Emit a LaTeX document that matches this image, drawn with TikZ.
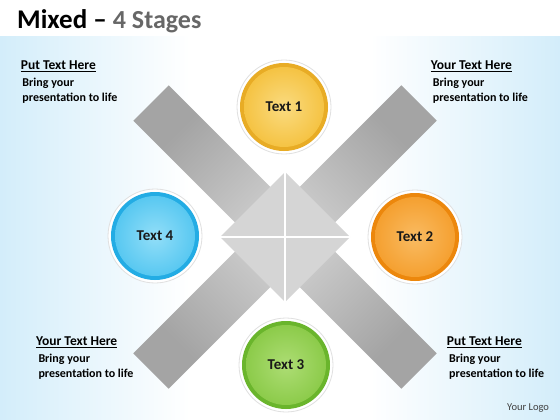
\documentclass[tikz,border=0pt]{standalone}
\usepackage{fontspec}
\setmainfont{Carlito}
\usepackage{tikz}
\usetikzlibrary{calc}
\definecolor{bgblue}{HTML}{D3EDFA}
\definecolor{titlegray}{HTML}{676767}
\definecolor{bardark}{HTML}{A4A4A4}
\definecolor{barlight}{HTML}{D6D6D6}
\definecolor{hubgray}{HTML}{D5D5D5}
\definecolor{yellowrim}{HTML}{E8AC25}
\definecolor{yellowface}{HTML}{F5C343}
\definecolor{yellowglow}{HTML}{FADB80}
\definecolor{orangerim}{HTML}{EC870C}
\definecolor{orangeface}{HTML}{F5A030}
\definecolor{orangeglow}{HTML}{F9BB62}
\definecolor{greenrim}{HTML}{6AB52C}
\definecolor{greenface}{HTML}{8CCB4A}
\definecolor{greenglow}{HTML}{ADDD74}
\definecolor{bluerim}{HTML}{23ACE4}
\definecolor{blueface}{HTML}{58C8F1}
\definecolor{blueglow}{HTML}{92DEF8}
\tikzset{
  titletext/.style={anchor=base west,inner sep=0pt,font=\fontsize{27}{31}\selectfont\bfseries},
  headtext/.style={anchor=base west,inner sep=0pt,font=\fontsize{13.5}{16}\selectfont\bfseries},
  bodytext/.style={anchor=base west,inner sep=0pt,font=\fontsize{12}{14}\selectfont\bfseries},
  logotext/.style={anchor=base west,inner sep=0pt,text=black!75,font=\fontsize{10.5}{12}\selectfont},
  stagering/.style={circle,fill=white,draw=black!12,line width=0.8pt,minimum size=94pt,inner sep=0pt},
  stagetext/.style={inner sep=0pt,text=black!90,font=\fontsize{15}{18}\selectfont\bfseries}
}
\newcommand{\noteblock}[5]{%
  \node[headtext] (#1head) at (#2,#3) {\underline{#4}};
  \node[bodytext] (#1top) at (#2+#5,#3+17) {Bring your};
  \node[bodytext] (#1bot) at (#2+#5,#3+32) {presentation to life};
}
\newcommand{\stagedisc}[7]{%
  \node[stagering] (#1) at (#2,#3) {};
  \fill[#4] (#1.center) circle (44);
  \shade[inner color=#6,outer color=#5] (#1.center) circle (40);
  \node[stagetext] (#1label) at (#1.center) {#7};
}

\begin{document}
\begin{tikzpicture}[x=1pt,y=-1pt,line cap=round,line join=round]
  \useasboundingbox (0,0) rectangle (560,420);
  \fill[white] (0,0) rectangle (560,420);
  \shade[left color=bgblue,right color=white] (0,37) rectangle (190,420);
  \shade[left color=white,right color=bgblue] (370,37) rectangle (560,420);

  \node[titletext] (title) at (17,29) {Mixed – {\color{titlegray}\fontsize{26}{30}\selectfont 4 Stages}};

  % the two crossing bars
  \shade[left color=bardark,right color=bardark,middle color=barlight,shading angle=45]
    (168.7,85.3) -- (436.7,353.3) -- (401.3,388.7) -- (133.3,120.7) -- cycle;
  \shade[left color=bardark,right color=bardark,middle color=barlight,shading angle=-45]
    (401.3,85.3) -- (436.7,120.7) -- (168.7,388.7) -- (133.3,353.3) -- cycle;

  % hub in the middle
  \fill[hubgray] (285,172) -- (350,237) -- (285,302) -- (220,237) -- cycle;
  \draw[white,line width=1.4pt,line cap=butt] (285,172) -- (285,302);
  \draw[white,line width=1.4pt,line cap=butt] (220,237) -- (350,237);

  \stagedisc{one}{284}{107}{yellowrim}{yellowface}{yellowglow}{Text 1}
  \stagedisc{two}{415}{237}{orangerim}{orangeface}{orangeglow}{Text 2}
  \stagedisc{three}{286}{365}{greenrim}{greenface}{greenglow}{Text 3}
  \stagedisc{four}{155}{236}{bluerim}{blueface}{blueglow}{Text 4}

  \noteblock{tl}{20.7}{69.3}{Put Text Here}{1.6}
  \noteblock{tr}{430.7}{70}{Your Text Here}{2}
  \noteblock{bl}{36}{345.3}{Your Text Here}{2.3}
  \noteblock{br}{446.7}{345.7}{Put Text Here}{2.3}

  \node[logotext] (logo) at (507,410.7) {Your Logo};
\end{tikzpicture}
\end{document}
